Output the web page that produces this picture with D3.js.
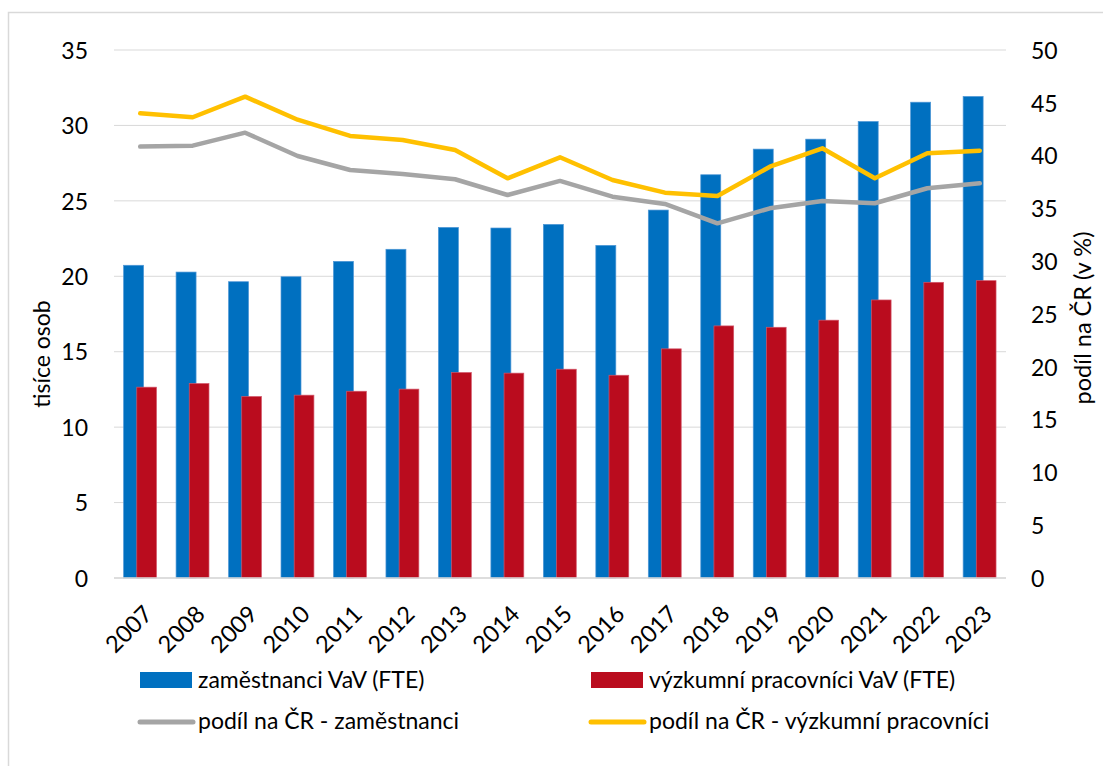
<!DOCTYPE html>
<html>
<head>
<meta charset="utf-8">
<script src="https://cdn.jsdelivr.net/npm/d3@7"></script>
<style>
  body { margin: 0; background: #fff; }
  svg text { font-family: Lato, "Open Sans", sans-serif; fill: #000; }
  .grid line { stroke: #d9d9d9; stroke-width: 1; }
</style>
</head>
<body>
<div id="chart"></div>
<script>
// data
var years = ["2007","2008","2009","2010","2011","2012","2013","2014","2015","2016","2017","2018","2019","2020","2021","2022","2023"];
var zamestnanci = [20.73,20.28,19.64,19.97,20.99,21.79,23.24,23.2,23.44,22.05,24.39,26.73,28.43,29.09,30.26,31.54,31.92];
var vyzkumnici = [12.65,12.89,12.03,12.12,12.38,12.52,13.62,13.58,13.84,13.44,15.19,16.71,16.62,17.09,18.43,19.6,19.71];
var podilZam = [40.85,40.94,42.17,39.96,38.64,38.26,37.76,36.27,37.6,36.11,35.42,33.59,35.01,35.7,35.49,36.91,37.38];
var podilVyz = [44.0,43.63,45.58,43.4,41.86,41.48,40.53,37.85,39.84,37.69,36.49,36.18,38.95,40.69,37.85,40.22,40.47];
var leftTicks = [0,5,10,15,20,25,30,35];
var rightTicks = [0,5,10,15,20,25,30,35,40,45,50];

var legendItems = [
  {name: "zaměstnanci VaV (FTE)", type: "bar", color: "#0070c0"},
  {name: "výzkumní pracovníci VaV (FTE)", type: "bar", color: "#ba0c1e"},
  {name: "podíl na ČR - zaměstnanci", type: "line", color: "#a5a5a5"},
  {name: "podíl na ČR - výzkumní pracovníci", type: "line", color: "#ffc000"}
];

var W = 1103, H = 766;
var margin = {top: 50, left: 114, right: 97, bottom: 188};
var width = W - margin.left - margin.right,
    height = H - margin.top - margin.bottom;

var svg = d3.select("#chart").append("svg")
  .attr("width", W)
  .attr("height", H);

// chart frame (only left and top edges show)
svg.append("rect")
  .attr("x", 8.5).attr("y", 12.5)
  .attr("width", W + 20).attr("height", H + 20)
  .attr("fill", "none")
  .attr("stroke", "#d9d9d9")
  .attr("stroke-width", 1.5);

var g = svg.append("g")
  .attr("transform", "translate(" + margin.left + "," + margin.top + ")");

var xScale = d3.scaleBand()
  .domain(years)
  .range([0, width])
  .padding(0);

var yLeft = d3.scaleLinear()
  .domain([0, 35])
  .range([height, 0]);

var yRight = d3.scaleLinear()
  .domain([0, 50])
  .range([height, 0]);

var bw = xScale.bandwidth();

// gridlines
g.append("g")
  .attr("class", "grid")
  .selectAll("line")
  .data(leftTicks)
  .enter().append("line")
  .attr("x1", 0).attr("x2", width)
  .attr("y1", function(d) { return yLeft(d); })
  .attr("y2", function(d) { return yLeft(d); });

// left axis
var leftAxis = g.append("g")
  .call(d3.axisLeft(yLeft).tickValues(leftTicks).tickSize(0).tickPadding(26));
leftAxis.select(".domain").remove();
leftAxis.selectAll("text").style("font-size", "23px").attr("dy", "0.36em");

// right axis
var rightAxis = g.append("g")
  .attr("transform", "translate(" + width + ",0)")
  .call(d3.axisRight(yRight).tickValues(rightTicks).tickSize(0).tickPadding(25));
rightAxis.select(".domain").remove();
rightAxis.selectAll("text").style("font-size", "23px").attr("dy", "0.36em");

// bars
g.selectAll(".bar-zam")
  .data(years)
  .enter().append("rect")
  .attr("class", "bar-zam")
  .attr("x", function(d) { return xScale(d) + bw * 0.183; })
  .attr("width", bw * 0.381)
  .attr("y", function(d, i) { return yLeft(zamestnanci[i]); })
  .attr("height", function(d, i) { return height - yLeft(zamestnanci[i]); })
  .attr("fill", "#0070c0")
  .attr("stroke", "#4f97d6")
  .attr("stroke-width", 0.7);

g.selectAll(".bar-vyz")
  .data(years)
  .enter().append("rect")
  .attr("class", "bar-vyz")
  .attr("x", function(d) { return xScale(d) + bw * 0.434; })
  .attr("width", bw * 0.376)
  .attr("y", function(d, i) { return yLeft(vyzkumnici[i]); })
  .attr("height", function(d, i) { return height - yLeft(vyzkumnici[i]); })
  .attr("fill", "#ba0c1e")
  .attr("stroke", "#d2566a")
  .attr("stroke-width", 0.7);

// x axis line
g.append("line")
  .attr("x1", 0).attr("x2", width)
  .attr("y1", height).attr("y2", height)
  .attr("stroke", "#d9d9d9")
  .attr("stroke-width", 1.5);

// lines on right axis
var line = d3.line()
  .x(function(d) { return xScale(d.year) + bw / 2; })
  .y(function(d) { return yRight(d.v); });

function series(vals) {
  return years.map(function(y, i) { return {year: y, v: vals[i]}; });
}

g.append("path")
  .datum(series(podilZam))
  .attr("d", line)
  .attr("fill", "none")
  .attr("stroke", "#a5a5a5")
  .attr("stroke-width", 4.5)
  .attr("stroke-linejoin", "round")
  .attr("stroke-linecap", "round");

g.append("path")
  .datum(series(podilVyz))
  .attr("d", line)
  .attr("fill", "none")
  .attr("stroke", "#ffc000")
  .attr("stroke-width", 4.5)
  .attr("stroke-linejoin", "round")
  .attr("stroke-linecap", "round");

// x labels, rotated
g.selectAll(".xlab")
  .data(years)
  .enter().append("text")
  .attr("class", "xlab")
  .attr("transform", function(d) {
    return "translate(" + (xScale(d) + bw / 2 + 2) + "," + (height + 26) + ") rotate(-45)";
  })
  .attr("text-anchor", "end")
  .attr("dy", "0.7em")
  .style("font-size", "23.5px")
  .text(function(d) { return d; });

// axis titles
svg.append("text")
  .attr("transform", "translate(50,354) rotate(-90)")
  .attr("text-anchor", "middle")
  .style("font-size", "23px")
  .text("tisíce osob");

svg.append("text")
  .attr("transform", "translate(1091,318) rotate(-90)")
  .attr("text-anchor", "middle")
  .style("font-size", "23.5px")
  .text("podíl na ČR (v %)");

// legend
var legPos = [[140, 680], [591, 680], [140, 721], [591, 721]];
var leg = svg.selectAll(".leg")
  .data(legendItems)
  .enter().append("g")
  .attr("class", "leg")
  .attr("transform", function(d, i) { return "translate(" + legPos[i][0] + "," + legPos[i][1] + ")"; });

leg.filter(function(d) { return d.type == "bar"; })
  .append("rect")
  .attr("x", 0).attr("y", -8)
  .attr("width", 52).attr("height", 16)
  .attr("fill", function(d) { return d.color; });

leg.filter(function(d) { return d.type == "line"; })
  .append("line")
  .attr("x1", 0).attr("x2", 53)
  .attr("y1", 1).attr("y2", 1)
  .attr("stroke", function(d) { return d.color; })
  .attr("stroke-width", 5)
  .attr("stroke-linecap", "round");

leg.append("text")
  .attr("x", 58)
  .attr("dy", "0.36em")
  .style("font-size", "23px")
  .text(function(d) { return d.name; });
</script>
</body>
</html>
